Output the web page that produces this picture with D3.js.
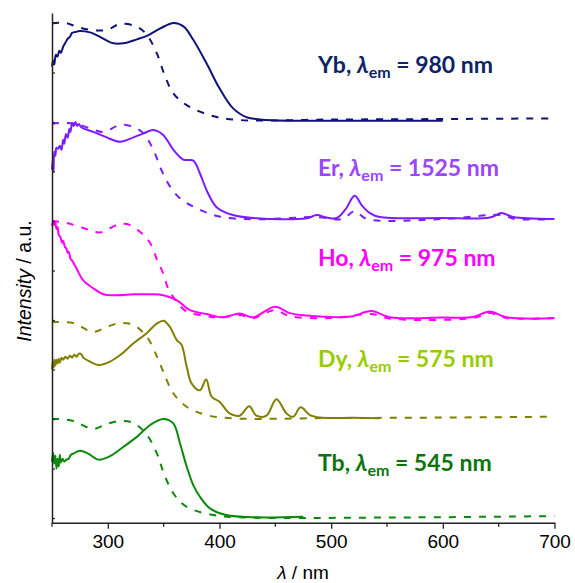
<!DOCTYPE html>
<html>
<head>
<meta charset="utf-8">
<script src="https://cdn.jsdelivr.net/npm/d3@7"></script>
<style>
  body { margin: 0; background: #fff; }
  svg { display: block; }
</style>
</head>
<body>
<svg id="chart" width="575" height="583"></svg>
<script>
// Stacked excitation spectra (solid) with dashed references, one per lanthanide
// Values are [wavelength nm, normalised intensity]

const xTicks = [300, 400, 500, 600, 700];
const xMinor = [250, 350, 450, 550, 650];

const ybSolid = [[250,0.56],[251,0.62],[252,0.58],[253.5,0.68],[255,0.66],[256.5,0.72],[258,0.7],[260,0.76],[262,0.8],[264,0.84],[266,0.86],[268,0.9],[271,0.91],[275,0.92],[284,0.905],[293,0.86],[305,0.795],[314,0.795],[326,0.835],[335,0.87],[347,0.946],[359,1.0],[368,0.963],[376.5,0.83],[388.5,0.59],[400,0.34],[412,0.14],[424,0.05],[442,0.02],[481,0.013],[540,0.012],[600,0.013]];
const ybDash = [[250,0.997],[262,1.0],[272,0.963],[285,0.93],[299,0.93],[311,0.99],[326,0.963],[335,0.88],[344,0.69],[351,0.47],[358.6,0.29],[370.6,0.17],[394,0.06],[418,0.02],[500,0.025],[600,0.03],[700,0.037]];

const erSolid = [[250,0.52],[250.7,0.62],[251.4,0.5],[252,0.7],[253,0.66],[254,0.74],[255.5,0.73],[257,0.76],[258.5,0.72],[260,0.82],[261,0.78],[262.5,0.88],[264,0.84],[265.5,0.93],[266.5,0.9],[268,0.99],[269.5,0.96],[271,1.0],[272.5,0.96],[274,0.98],[276,0.95],[278,0.936],[287,0.9],[299,0.845],[311,0.8],[323,0.845],[332,0.885],[340.7,0.92],[349.6,0.87],[358.6,0.72],[367.5,0.62],[376.5,0.61],[382.5,0.48],[388.5,0.31],[397.4,0.14],[412,0.06],[433,0.027],[478,0.027],[487,0.06],[496,0.035],[505,0.03],[513,0.12],[521,0.255],[528,0.15],[534.7,0.08],[543.6,0.04],[600,0.03],[642,0.035],[652.6,0.08],[663,0.04],[699,0.02]];
const erDash = [[250,0.98],[257,0.99],[270,0.985],[283,0.94],[296,0.9],[311,0.97],[323,0.95],[332,0.885],[340.7,0.72],[348,0.515],[355.6,0.35],[364.6,0.23],[379.5,0.13],[400,0.045],[430,0.017],[487,0.04],[510,0.02],[521,0.1],[532,0.02],[600,0.02],[652,0.06],[665,0.02],[700,0.02]];

const hoSolid = [[250,0.95],[251,1.0],[252,0.96],[253,0.99],[254,0.92],[255,0.94],[256,0.86],[257.5,0.84],[259,0.78],[260,0.8],[261.5,0.74],[263,0.72],[264,0.68],[265,0.69],[266.5,0.62],[268,0.6],[272,0.52],[278,0.4],[287,0.32],[296,0.26],[308,0.25],[323,0.26],[338,0.26],[349.6,0.25],[361.6,0.2],[373.5,0.1],[388.5,0.06],[403,0.027],[418,0.067],[430,0.027],[449.6,0.134],[463,0.07],[478,0.045],[500,0.03],[518,0.035],[536,0.09],[552.6,0.027],[600,0.025],[627,0.03],[642,0.085],[657,0.027],[699,0.017]];
const hoDash = [[250,1.0],[263,0.98],[278,0.93],[293,0.885],[308,0.96],[317,0.97],[329,0.89],[338,0.775],[344,0.61],[349.6,0.47],[354,0.32],[362,0.18],[370.6,0.085],[388.5,0.04],[400,0.025],[418,0.05],[430,0.02],[449,0.1],[463,0.04],[500,0.02],[536,0.06],[552,0.015],[627,0.02],[642,0.07],[657,0.02],[700,0.02]];

const dySolid = [[250,0.5],[250.7,0.58],[251.5,0.52],[252.3,0.6],[253,0.54],[254,0.6],[255,0.56],[256,0.61],[257,0.57],[258.5,0.62],[260,0.6],[262,0.63],[264,0.61],[266,0.64],[268,0.62],[270,0.65],[272,0.63],[274,0.66],[276.6,0.65],[278,0.62],[284,0.58],[291.5,0.545],[302,0.58],[311,0.646],[323,0.765],[335,0.87],[344,0.966],[350,0.993],[355.6,0.93],[361.6,0.8],[366,0.75],[370.6,0.53],[375,0.36],[382.5,0.29],[388,0.4],[393,0.225],[400,0.175],[409,0.057],[418,0.034],[426.6,0.13],[433,0.034],[442,0.035],[451,0.2],[460,0.057],[466,0.023],[472.6,0.118],[481,0.04],[490,0.015],[520,0.012],[543.6,0.007]];
const dyDash = [[250,0.98],[269,0.97],[287,0.88],[299,0.93],[311,0.97],[323,0.95],[335,0.83],[344,0.63],[349.6,0.48],[358.6,0.26],[370.6,0.124],[388.5,0.04],[412,0.007],[500,0.01],[600,0.015],[700,0.023]];

const tbSolid = [[250,0.57],[251,0.66],[252,0.55],[253,0.63],[254,0.5],[255,0.6],[256,0.52],[257,0.64],[258,0.56],[259.5,0.6],[261,0.57],[263,0.59],[265,0.6],[267,0.64],[269,0.65],[275,0.68],[282.5,0.65],[291.5,0.59],[302,0.626],[314,0.72],[326,0.82],[338,0.94],[349.6,1.0],[358.6,0.956],[364.6,0.755],[370.6,0.52],[376.5,0.333],[382.5,0.215],[391.5,0.098],[406,0.03],[433,0.007],[475,0.013]];
const tbDash = [[250,1.0],[257,1.0],[269,0.98],[287,0.9],[299,0.95],[311,0.98],[323,0.96],[335,0.84],[344,0.65],[349.6,0.47],[358.6,0.25],[370.6,0.114],[394.5,0.03],[418,0.007],[550,0.005],[700,0.02]];

const series = [
  { name: "Tb", em: "545", solid: tbSolid, dash: tbDash, line: "#0a8a0a", text: "#0b740b" },
  { name: "Dy", em: "575", solid: dySolid, dash: dyDash, line: "#808000", text: "#99cc00" },
  { name: "Ho", em: "975", solid: hoSolid, dash: hoDash, line: "#ff00ff", text: "#ff00ff" },
  { name: "Er", em: "1525", solid: erSolid, dash: erDash, line: "#7c1cff", text: "#9b45ff" },
  { name: "Yb", em: "980", solid: ybSolid, dash: ybDash, line: "#10107e", text: "#0c2366" }
];
const labelY = [470.7, 366.7, 266, 176, 73];

const svg = d3.select("#chart");

const x = d3.scaleLinear().domain([250, 700]).range([52, 554.5]);
const y = d3.scaleLinear().domain([-0.047, 5.101]).range([522.7, 13]);

const line = d3.line()
  .x(d => x(d[0]))
  .y(d => y(d[1]))
  .curve(d3.curveCatmullRom.alpha(0.5));

const g = svg.append("g");

series.forEach((s, i) => {
  const shifted = arr => arr.map(d => [d[0], d[1] + i]);

  g.append("path")
    .attr("fill", "none")
    .attr("stroke", s.line)
    .attr("stroke-width", 2)
    .attr("stroke-dasharray", "7,8")
    .attr("d", line(shifted(s.dash)));

  g.append("path")
    .attr("fill", "none")
    .attr("stroke", s.line)
    .attr("stroke-width", 2)
    .attr("stroke-linejoin", "round")
    .attr("d", line(shifted(s.solid)));

  // label like "Yb, λem = 980 nm"
  const t = g.append("text")
    .attr("x", 318)
    .attr("y", labelY[i])
    .attr("fill", s.text)
    .style("font-family", "Lato, 'Open Sans', sans-serif")
    .style("font-weight", "bold")
    .style("font-size", "23px");
  t.append("tspan").text(s.name + ", ");
  t.append("tspan").style("font-style", "italic").text("λ");
  t.append("tspan").attr("dy", 5).style("font-size", "16px").text("em");
  t.append("tspan").attr("dy", -5).text(" = " + s.em + " nm");
});

// X axis
const xAxis = svg.append("g")
  .attr("transform", `translate(0,${y(-0.047)})`)
  .call(d3.axisBottom(x).tickValues(xTicks).tickSize(6).tickSizeOuter(0).tickPadding(6));
xAxis.selectAll("text")
  .style("font-family", "'Liberation Sans', Arial, sans-serif")
  .style("font-size", "19px")
  .attr("fill", "#000");
xAxis.select(".domain").attr("stroke", "#222").attr("stroke-width", 1.5);
xAxis.selectAll(".tick line").attr("stroke", "#222").attr("stroke-width", 1.3);

svg.append("g")
  .attr("transform", `translate(0,${y(-0.047)})`)
  .selectAll("line")
  .data(xMinor)
  .join("line")
  .attr("x1", d => x(d))
  .attr("x2", d => x(d))
  .attr("y1", 0)
  .attr("y2", 4)
  .attr("stroke", "#222")
  .attr("stroke-width", 1.3);

// Y axis, ticks pointing inward, no labels
const yAxis = svg.append("g")
  .attr("transform", `translate(${x(250)},0)`)
  .call(d3.axisRight(y).tickValues(d3.range(0, 5.01, 0.5)).tickSize(3).tickSizeOuter(0).tickFormat(""));
yAxis.select(".domain").attr("stroke", "#222").attr("stroke-width", 1.5);
yAxis.selectAll(".tick line").attr("stroke", "#222").attr("stroke-width", 1.2);

// axis titles
const xl = svg.append("text")
  .attr("x", 303)
  .attr("y", 579)
  .attr("text-anchor", "middle")
  .style("font-family", "'Liberation Sans', Arial, sans-serif")
  .style("font-size", "19px");
xl.append("tspan").style("font-style", "italic").text("λ");
xl.append("tspan").text(" / nm");

const yl = svg.append("text")
  .attr("transform", "rotate(-90)")
  .attr("x", -281)
  .attr("y", 31)
  .attr("text-anchor", "middle")
  .style("font-family", "'Liberation Sans', Arial, sans-serif")
  .style("font-size", "19.5px");
yl.append("tspan").style("font-style", "italic").text("Intensity");
yl.append("tspan").text(" / a.u.");
</script>
</body>
</html>
